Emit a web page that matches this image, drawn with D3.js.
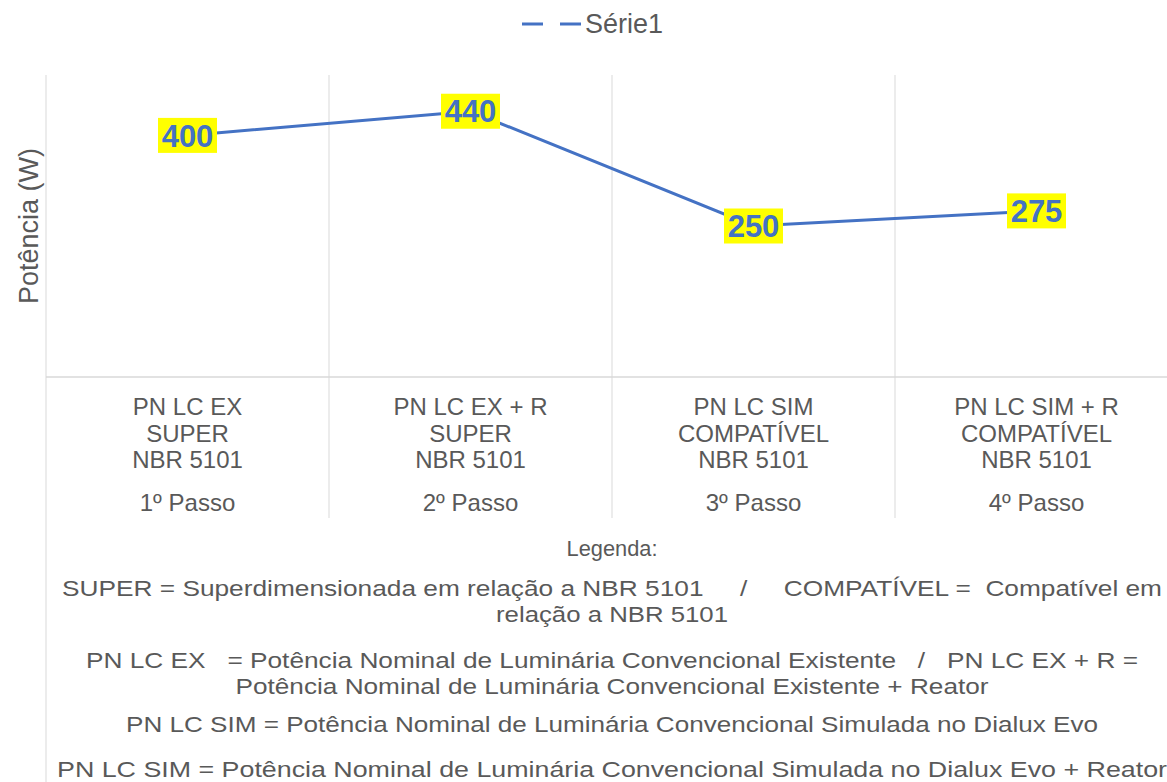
<!DOCTYPE html>
<html>
<head>
<meta charset="utf-8">
<script src="https://cdn.jsdelivr.net/npm/d3@7"></script>
<style>
  body { margin: 0; background: #fff; }
  text { font-family: "Liberation Sans", Arial, sans-serif; }
</style>
</head>
<body>
<script>
// chart data
const seriesName = "Série1";
const steps = ["1º Passo", "2º Passo", "3º Passo", "4º Passo"];
const categoryLines = [
    ["PN LC EX", "SUPER", "NBR 5101"],
    ["PN LC EX + R", "SUPER", "NBR 5101"],
    ["PN LC SIM", "COMPATÍVEL", "NBR 5101"],
    ["PN LC SIM + R", "COMPATÍVEL", "NBR 5101"]
];
const values = [400, 440, 250, 275];
const yTitle = "Potência (W)";
const notes = [
    "Legenda:",
    "SUPER = Superdimensionada em relação a NBR 5101     /     COMPATÍVEL =  Compatível em",
    "relação a NBR 5101",
    "PN LC EX   = Potência Nominal de Luminária Convencional Existente   /   PN LC EX + R =",
    "Potência Nominal de Luminária Convencional Existente + Reator",
    "PN LC SIM = Potência Nominal de Luminária Convencional Simulada no Dialux Evo",
    "PN LC SIM = Potência Nominal de Luminária Convencional Simulada no Dialux Evo + Reator"
];

// layout of the note lines (baseline y, drawn width)
const noteY = [556, 596, 622, 668, 694, 732, 777];
const noteW = [91, 1100, 232, 1052, 753, 972, 1110];

const W = 1167, H = 782;
const plotL = 46, plotR = 1178, plotT = 75, plotB = 377;
const blue = "#4472C4", grey = "#595959", grid = "#D9D9D9";

const svg = d3.select("body").append("svg")
    .attr("width", W).attr("height", H);

const x = d3.scaleBand().domain(steps).range([plotL, plotR]);
const y = d3.scaleLinear().domain([0, 500]).range([plotB, plotT]);

// vertical separators between categories
const bounds = steps.map(s => x(s)).concat([plotR]);
svg.selectAll(".sep")
    .data(bounds)
    .enter()
    .append("line")
    .attr("x1", d => d).attr("x2", d => d)
    .attr("y1", plotT)
    .attr("y2", (d, i) => i === 0 ? H : 518)
    .attr("stroke", grid).attr("stroke-width", 1);

// category axis line
svg.append("line")
    .attr("x1", plotL).attr("x2", W)
    .attr("y1", plotB).attr("y2", plotB)
    .attr("stroke", grid).attr("stroke-width", 1.5);

// inner category labels
categoryLines.forEach((lines, i) => {
    svg.append("g").selectAll("text")
        .data(lines)
        .enter()
        .append("text")
        .attr("x", x(steps[i]) + x.bandwidth() / 2)
        .attr("y", (d, j) => 415 + j * 26.5)
        .attr("text-anchor", "middle")
        .style("font-size", "24px")
        .style("fill", grey)
        .text(d => d);
});

// outer level labels through the axis
const axis = svg.append("g")
    .attr("transform", `translate(0, 494)`)
    .call(d3.axisBottom(x).tickSize(0).tickPadding(0));
axis.select(".domain").remove();
axis.selectAll("text")
    .attr("dy", "0.71em")
    .style("font-size", "24px")
    .style("font-family", '"Liberation Sans", Arial, sans-serif')
    .style("fill", grey);

// y title
svg.append("text")
    .attr("transform", `translate(38, ${(plotT + plotB) / 2}) rotate(-90)`)
    .attr("text-anchor", "middle")
    .style("font-size", "27px")
    .style("fill", grey)
    .text(yTitle);

// series line
const pts = values.map((v, i) => [x(steps[i]) + x.bandwidth() / 2, y(v)]);
svg.append("path")
    .datum(pts)
    .attr("d", d3.line())
    .attr("fill", "none")
    .attr("stroke", blue)
    .attr("stroke-width", 3);

// data labels on yellow boxes
const labels = svg.selectAll(".lbl")
    .data(values)
    .enter()
    .append("g")
    .attr("transform", (d, i) => `translate(${pts[i][0]}, ${pts[i][1]})`);
labels.append("rect")
    .attr("x", -29.5).attr("y", -17.5)
    .attr("width", 59).attr("height", 35)
    .attr("fill", "#FFFF00");
labels.append("text")
    .attr("text-anchor", "middle")
    .attr("dy", "0.36em")
    .style("font-size", "31px")
    .style("font-weight", "bold")
    .style("fill", blue)
    .text(d => d);

// legend
svg.append("line")
    .attr("x1", 522).attr("x2", 581)
    .attr("y1", 24).attr("y2", 24)
    .attr("stroke", blue).attr("stroke-width", 3)
    .attr("stroke-dasharray", "21,17");
svg.append("text")
    .attr("x", 585).attr("y", 33)
    .style("font-size", "27px")
    .style("fill", grey)
    .text(seriesName);

// notes under the chart
svg.selectAll(".note")
    .data(notes)
    .enter()
    .append("text")
    .attr("x", 612)
    .attr("y", (d, i) => noteY[i])
    .attr("text-anchor", "middle")
    .attr("textLength", (d, i) => noteW[i])
    .attr("lengthAdjust", "spacingAndGlyphs")
    .style("white-space", "pre")
    .style("font-size", "22px")
    .style("fill", grey)
    .text(d => d);
</script>
</body>
</html>
